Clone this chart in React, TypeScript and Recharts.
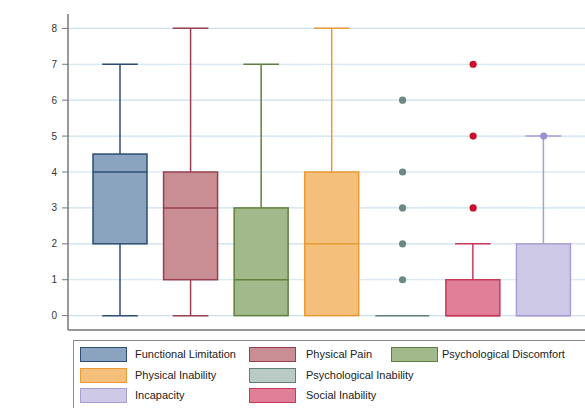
import React from "react";
import {
  ComposedChart,
  Bar,
  Scatter,
  XAxis,
  YAxis,
  ReferenceLine,
} from "recharts";

// box plot summary per domain
const categories = [
  "Functional Limitation",
  "Physical Pain",
  "Psychological Discomfort",
  "Physical Inability",
  "Psychological Inability",
  "Social Inability",
  "Incapacity",
];
const mins = [0, 0, 0, 0, 0, 0, 0];
const q1s = [2, 1, 0, 0, 0, 0, 0];
const medians = [4, 3, 1, 2, 0, 0, 0];
const q3s = [4.5, 4, 3, 4, 0, 1, 2];
const maxs = [7, 8, 7, 8, 0, 2, 5];

const psyInabilityOutliers = [1, 2, 3, 4, 6];
const socialInabilityOutliers = [3, 5, 7];
const incapacityOutliers = [5];

const yTicks = [0, 1, 2, 3, 4, 5, 6, 7, 8];

const fills = ["#8aa4bf", "#c98e94", "#a2b98b", "#f3bf7a", "#b8cbc4", "#e07f97", "#cfc9e8"];
const strokes = ["#2d4e72", "#98404d", "#60803f", "#e89a35", "#5f7f78", "#c9395b", "#a79ed3"];

const data = categories.map((name, i) => ({
  name,
  idx: i,
  min: mins[i],
  q1: q1s[i],
  median: medians[i],
  q3: q3s[i],
  max: maxs[i],
}));

const outlierSets = [
  { name: categories[4], values: psyInabilityOutliers, color: "#6a8a82" },
  { name: categories[5], values: socialInabilityOutliers, color: "#c8102e" },
  { name: categories[6], values: incapacityOutliers, color: "#9a8fd0" },
];

const BoxShape = (props: any) => {
  const { x, y, width, height, payload } = props;
  const { min, q1, median, q3, max, idx } = payload;
  const span = max - min;
  // linear scale inside the whisker range given by the bar
  const py = (v: number) => (span === 0 ? y : y + (height * (max - v)) / span);
  const stroke = strokes[idx];
  const cx = x + width / 2;
  const cap = width * 0.33;
  const sw = 1.5;
  return (
    <g>
      <line x1={cx} x2={cx} y1={py(max)} y2={py(q3)} stroke={stroke} strokeWidth={sw} />
      <line x1={cx} x2={cx} y1={py(q1)} y2={py(min)} stroke={stroke} strokeWidth={sw} />
      {max > q3 && (
        <line x1={cx - cap} x2={cx + cap} y1={py(max)} y2={py(max)} stroke={stroke} strokeWidth={sw} />
      )}
      {min < q1 && (
        <line x1={cx - cap} x2={cx + cap} y1={py(min)} y2={py(min)} stroke={stroke} strokeWidth={sw} />
      )}
      <rect
        x={x}
        y={py(q3)}
        width={width}
        height={Math.max(py(q1) - py(q3), 0)}
        fill={fills[idx]}
        stroke={stroke}
        strokeWidth={sw}
      />
      <line x1={x} x2={x + width} y1={py(median)} y2={py(median)} stroke={stroke} strokeWidth={sw} />
    </g>
  );
};

const legendRows = [
  [0, 1, 2],
  [3, 4],
  [6, 5],
];
const colSwatchX = [80, 249, 391];
const colTextX = [135, 306, 442];

export default function App() {
  const refProps: any = { zIndex: -50 };
  return (
    <div
      style={{
        position: "fixed",
        left: 0,
        top: 0,
        width: 585,
        height: 408,
        background: "#fff",
        overflow: "hidden",
        fontFamily: "'Liberation Sans', Arial, sans-serif",
      }}
    >
      <ComposedChart
        width={585}
        height={331}
        data={data}
        margin={{ top: 14, right: 0, bottom: 0, left: 0 }}
      >
        {yTicks.map((t) => (
          <ReferenceLine key={t} y={t} stroke="#c9e1ee" strokeWidth={1.2} {...refProps} />
        ))}
        <XAxis
          dataKey="name"
          type="category"
          allowDuplicatedCategory={false}
          tick={false}
          tickLine={false}
          height={1}
          padding={{ left: 17, right: 6 }}
          axisLine={{ stroke: "#777", strokeWidth: 1.5 }}
        />
        <YAxis
          type="number"
          domain={[-0.4, 8.4]}
          ticks={yTicks}
          width={68}
          tickSize={6}
          tickMargin={5}
          axisLine={{ stroke: "#777", strokeWidth: 1.5 }}
          tickLine={{ stroke: "#777" }}
          tick={{ fontSize: 10, fill: "#333", fontFamily: "'Liberation Sans', Arial, sans-serif" }}
          allowDataOverflow
        />
        <Bar
          dataKey={(d: any) => [d.min, d.max]}
          barSize={54}
          shape={BoxShape}
          isAnimationActive={false}
        />
        {outlierSets.map((s) => (
          <Scatter
            key={s.name}
            data={s.values.map((v) => ({ name: s.name, value: v }))}
            dataKey="value"
            fill={s.color}
            shape={(p: any) => <circle cx={p.cx} cy={p.cy} r={3.6} fill={s.color} />}
            isAnimationActive={false}
          />
        ))}
      </ComposedChart>
      <div
        style={{
          position: "absolute",
          left: 73,
          top: 340,
          width: 600,
          height: 100,
          border: "1px solid #8a8a8a",
          boxSizing: "border-box",
        }}
      />
      {legendRows.map((row, r) =>
        row.map((ci, c) => (
          <React.Fragment key={categories[ci]}>
            <div
              style={{
                position: "absolute",
                left: colSwatchX[c],
                top: 347 + r * 20.5,
                width: 47,
                height: 15,
                background: fills[ci],
                border: `1.5px solid ${strokes[ci]}`,
                boxSizing: "border-box",
              }}
            />
            <div
              style={{
                position: "absolute",
                left: colTextX[c],
                top: 347 + r * 20.5,
                height: 15,
                lineHeight: "15px",
                fontSize: 11,
                color: "#222",
                whiteSpace: "nowrap",
              }}
            >
              {categories[ci]}
            </div>
          </React.Fragment>
        ))
      )}
    </div>
  );
}
